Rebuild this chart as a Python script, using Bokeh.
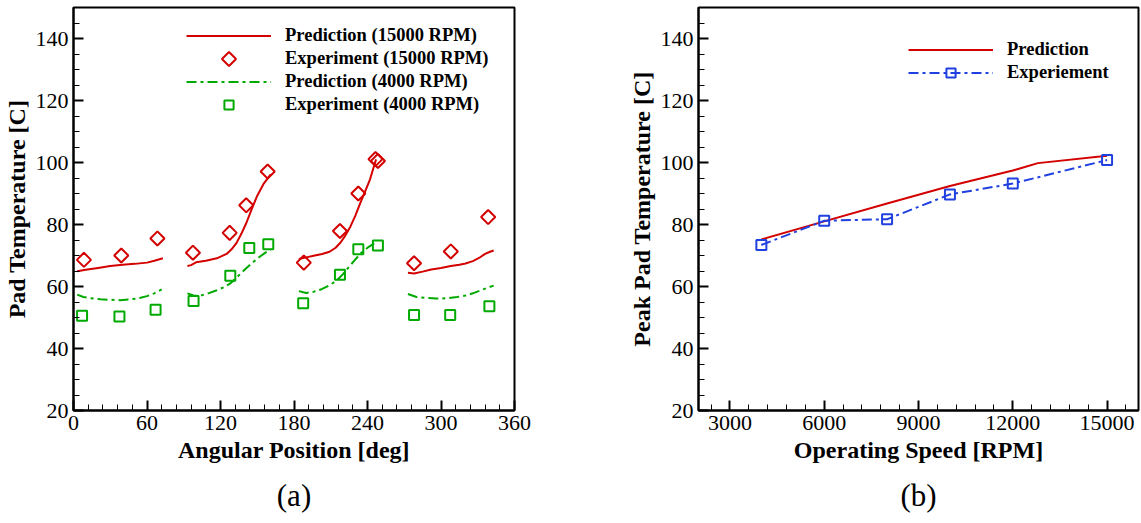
import math

from bokeh.embed import file_html
from bokeh.layouts import row
from bokeh.models import FixedTicker, Legend, LegendItem, Range1d, Title
from bokeh.plotting import figure
from bokeh.resources import INLINE

# ---------------- (a) pad temperature vs angular position ----------------
# Predicted profiles, 15000 RPM, one list per pad
pred15k_pad1_deg = [3, 10, 20, 30, 40, 50, 60, 66, 73]
pred15k_pad1_T = [64.9, 65.4, 66.0, 66.6, 67.0, 67.3, 67.7, 68.3, 69.1]
pred15k_pad2_deg = [93, 96, 100, 108, 117, 125, 129, 133, 137, 141, 145, 150, 155, 161]
pred15k_pad2_T = [66.6, 66.9, 67.8, 68.3, 69.1, 70.5, 72.0, 74.0, 77.0, 80.4, 84.5, 89.3, 93.0, 96.2]
pred15k_pad3_deg = [184, 190, 197, 203, 209, 214, 218, 222, 226, 230, 234, 238, 242, 247]
pred15k_pad3_T = [68.9, 69.4, 70.0, 70.5, 71.2, 72.5, 74.2, 76.5, 79.3, 82.8, 86.8, 90.6, 94.5, 101.0]
pred15k_pad4_deg = [273, 278, 285, 292, 300, 308, 315, 320, 326, 331, 336, 340, 343]
pred15k_pad4_T = [64.4, 64.2, 64.8, 65.5, 66.0, 66.6, 67.0, 67.4, 68.2, 69.2, 70.5, 71.2, 71.6]

# Predicted profiles, 4000 RPM
pred4k_pad1_deg = [3, 8, 14, 22, 30, 38, 46, 54, 60, 66, 72]
pred4k_pad1_T = [57.4, 56.6, 56.2, 55.9, 55.7, 55.6, 55.8, 56.3, 56.9, 57.8, 59.1]
pred4k_pad2_deg = [93, 98, 103, 110, 117, 123, 128, 134, 141, 147, 152, 157, 161]
pred4k_pad2_T = [57.8, 57.1, 57.0, 57.8, 58.8, 59.8, 61.0, 63.2, 65.9, 68.0, 69.6, 71.0, 71.9]
pred4k_pad3_deg = [184, 190, 196, 203, 209, 215, 220, 225, 230, 235, 241, 247]
pred4k_pad3_T = [58.5, 57.9, 58.3, 59.2, 60.4, 62.0, 64.0, 66.4, 68.7, 70.9, 72.8, 74.3]
pred4k_pad4_deg = [273, 280, 288, 296, 305, 313, 320, 326, 332, 338, 343]
pred4k_pad4_T = [57.6, 56.6, 56.3, 56.1, 56.2, 56.6, 57.1, 57.8, 58.7, 59.6, 60.3]

# Thermocouple measurements
exp15k_deg = [8.5, 39, 68.5, 97.5, 127.5, 141, 158.5, 188, 217.5, 232.5, 246.5, 248.5, 278, 308, 338.5]
exp15k_T = [68.6, 70.0, 75.5, 70.9, 77.3, 86.2, 97.1, 67.7, 77.9, 90.0, 101.1, 100.5, 67.5, 71.3, 82.4]
exp4k_deg = [7, 37.5, 67, 98, 128, 143.5, 159, 187.5, 217.5, 232.5, 248.5, 278, 307.5, 339.5]
exp4k_T = [50.6, 50.3, 52.5, 55.3, 63.5, 72.4, 73.6, 54.6, 63.8, 72.0, 73.2, 50.8, 50.8, 53.6]

# ---------------- (b) peak pad temperature vs speed ----------------
speed_pred = [4000, 6000, 8000, 10000, 12000, 12800, 15000]
peak_pred = [75.2, 81.0, 86.8, 92.4, 97.4, 99.8, 102.2]
speed_exp = [4000, 6000, 8000, 10000, 12000, 15000]
peak_exp = [73.4, 81.2, 81.7, 89.7, 93.2, 100.8]

# Axis ticks
angle_ticks = [0, 60, 120, 180, 240, 300, 360]
speed_ticks = [3000, 6000, 9000, 12000, 15000]
temp_ticks = [20, 40, 60, 80, 100, 120, 140]

RED = "#d40000"
GREEN = "#00aa00"
BLUE = "#2040e0"
SERIF = "Liberation Serif"
DASHDOT = "10 4 3 4"

PLOT_H = 523
BORDER_TOP = 7
BORDER_BOTTOM = 113
Y_MIN, Y_MAX = 20, 150

# shared legend geometry (pixels)
LEG_GLYPH_W = 85
LEG_ROW_H = 23


def joined(*parts):
    """Concatenate pad segments with NaN breaks so one line glyph draws all pads."""
    out = []
    for i, part in enumerate(parts):
        if i:
            out.append(float("nan"))
        out.extend(part)
    return out


def styled_figure(width, left, right, x_range, xticks, xminor, xlabel, ylabel, caption):
    p = figure(
        width=width, height=PLOT_H,
        x_range=x_range, y_range=Range1d(Y_MIN, Y_MAX),
        output_backend="svg", toolbar_location=None,
        min_border_left=left, min_border_right=right,
        min_border_top=BORDER_TOP, min_border_bottom=BORDER_BOTTOM,
    )
    p.grid.visible = False
    p.background_fill_color = "white"
    p.border_fill_color = "white"
    p.outline_line_color = "black"
    p.outline_line_width = 2
    p.outline_line_alpha = 1.0

    p.xaxis.ticker = FixedTicker(ticks=xticks, minor_ticks=xminor)
    p.yaxis.ticker = FixedTicker(ticks=temp_ticks, minor_ticks=list(range(20, 151, 5)))
    p.xaxis.axis_label = xlabel
    p.yaxis.axis_label = ylabel
    for ax in p.axis:
        ax.axis_line_color = "black"
        ax.axis_line_width = 2
        ax.major_tick_in = 10
        ax.major_tick_out = 0
        ax.minor_tick_in = 6
        ax.minor_tick_out = 0
        ax.major_tick_line_color = "black"
        ax.major_tick_line_width = 2
        ax.minor_tick_line_color = "black"
        ax.minor_tick_line_width = 1
        ax.major_label_text_font = SERIF
        ax.major_label_text_font_size = "22px"
        ax.major_label_text_color = "black"
        ax.major_label_standoff = 5
        ax.axis_label_text_font = SERIF
        ax.axis_label_text_font_style = "bold"
        ax.axis_label_text_font_size = "24px"
        ax.axis_label_text_color = "black"
    p.xaxis.axis_label_standoff = 4
    p.yaxis.axis_label_standoff = 3

    # panel caption underneath the axis title
    p.add_layout(Title(
        text=caption, align="center", text_font=SERIF, text_font_size="31px",
        text_font_style="normal", text_color="black", standoff=20,
    ), "below")
    return p


def add_legend(p, items, loc):
    p.add_layout(Legend(
        items=items, location=loc,
        glyph_width=LEG_GLYPH_W, glyph_height=LEG_ROW_H, spacing=0, label_standoff=14,
        padding=0, margin=0, border_line_alpha=0, background_fill_alpha=0,
        label_text_font=SERIF, label_text_font_style="bold",
        label_text_font_size="18.5px", label_text_color="black",
    ))


# ---------- left panel ----------
A_WIDTH, A_LEFT, A_RIGHT = 570, 73, 56
pa = styled_figure(
    A_WIDTH, A_LEFT, A_RIGHT, Range1d(0, 360), angle_ticks, list(range(0, 361, 12)),
    "Angular Position [deg]", "Pad Temperature [C]", "(a)",
)

r_pred15 = pa.line(
    joined(pred15k_pad1_deg, pred15k_pad2_deg, pred15k_pad3_deg, pred15k_pad4_deg),
    joined(pred15k_pad1_T, pred15k_pad2_T, pred15k_pad3_T, pred15k_pad4_T),
    line_color=RED, line_width=2,
)
r_pred4 = pa.line(
    joined(pred4k_pad1_deg, pred4k_pad2_deg, pred4k_pad3_deg, pred4k_pad4_deg),
    joined(pred4k_pad1_T, pred4k_pad2_T, pred4k_pad3_T, pred4k_pad4_T),
    line_color=GREEN, line_width=2, line_dash=DASHDOT,
)
diamond_style = dict(marker="square", size=10, angle=math.pi / 4,
                     fill_alpha=0, line_color=RED, line_width=2)
r_exp15 = pa.scatter(exp15k_deg, exp15k_T, **diamond_style)
r_exp4 = pa.scatter(
    exp4k_deg, exp4k_T, marker="square", size=10,
    fill_alpha=0, line_color=GREEN, line_width=2,
)

# The built-in legend draws markers unrotated, so the diamond row gets an empty
# sample and the rotated marker is placed at that row's centre instead.
a_leg_loc = (113, 294)
r_blank = pa.line([], [], line_alpha=0)
add_legend(pa, [
    LegendItem(label="Prediction (15000 RPM)", renderers=[r_pred15]),
    LegendItem(label="Experiment (15000 RPM)", renderers=[r_blank]),
    LegendItem(label="Prediction (4000 RPM)", renderers=[r_pred4]),
    LegendItem(label="Experiment (4000 RPM)", renderers=[r_exp4]),
], a_leg_loc)

a_frame_w = A_WIDTH - A_LEFT - A_RIGHT
a_frame_h = PLOT_H - BORDER_TOP - BORDER_BOTTOM
sample_px_x = a_leg_loc[0] + LEG_GLYPH_W / 2
sample_px_y = a_leg_loc[1] + 4 * LEG_ROW_H - 1.5 * LEG_ROW_H  # from frame bottom
sample_x = pa.x_range.start + sample_px_x / a_frame_w * (pa.x_range.end - pa.x_range.start)
sample_y = Y_MIN + sample_px_y / a_frame_h * (Y_MAX - Y_MIN)
pa.scatter([sample_x], [sample_y], **diamond_style)

# ---------- right panel ----------
pb = styled_figure(
    571, 128, 3, Range1d(2000, 16000), speed_ticks, list(range(2400, 16000, 600)),
    "Operating Speed [RPM]", "Peak Pad Temperature [C]", "(b)",
)
r_peak_pred = pb.line(speed_pred, peak_pred, line_color=RED, line_width=2)
r_peak_line = pb.line(speed_exp, peak_exp, line_color=BLUE, line_width=2, line_dash=DASHDOT)
r_peak_pts = pb.scatter(
    speed_exp, peak_exp, marker="square", size=10,
    fill_color="white", fill_alpha=0, line_color=BLUE, line_width=2,
)
add_legend(pb, [
    LegendItem(label="Prediction", renderers=[r_peak_pred]),
    LegendItem(label="Experiement", renderers=[r_peak_line, r_peak_pts]),
], (210, 326))

layout = row(pa, pb)
open("out.html", "w").write(file_html(layout, INLINE))
